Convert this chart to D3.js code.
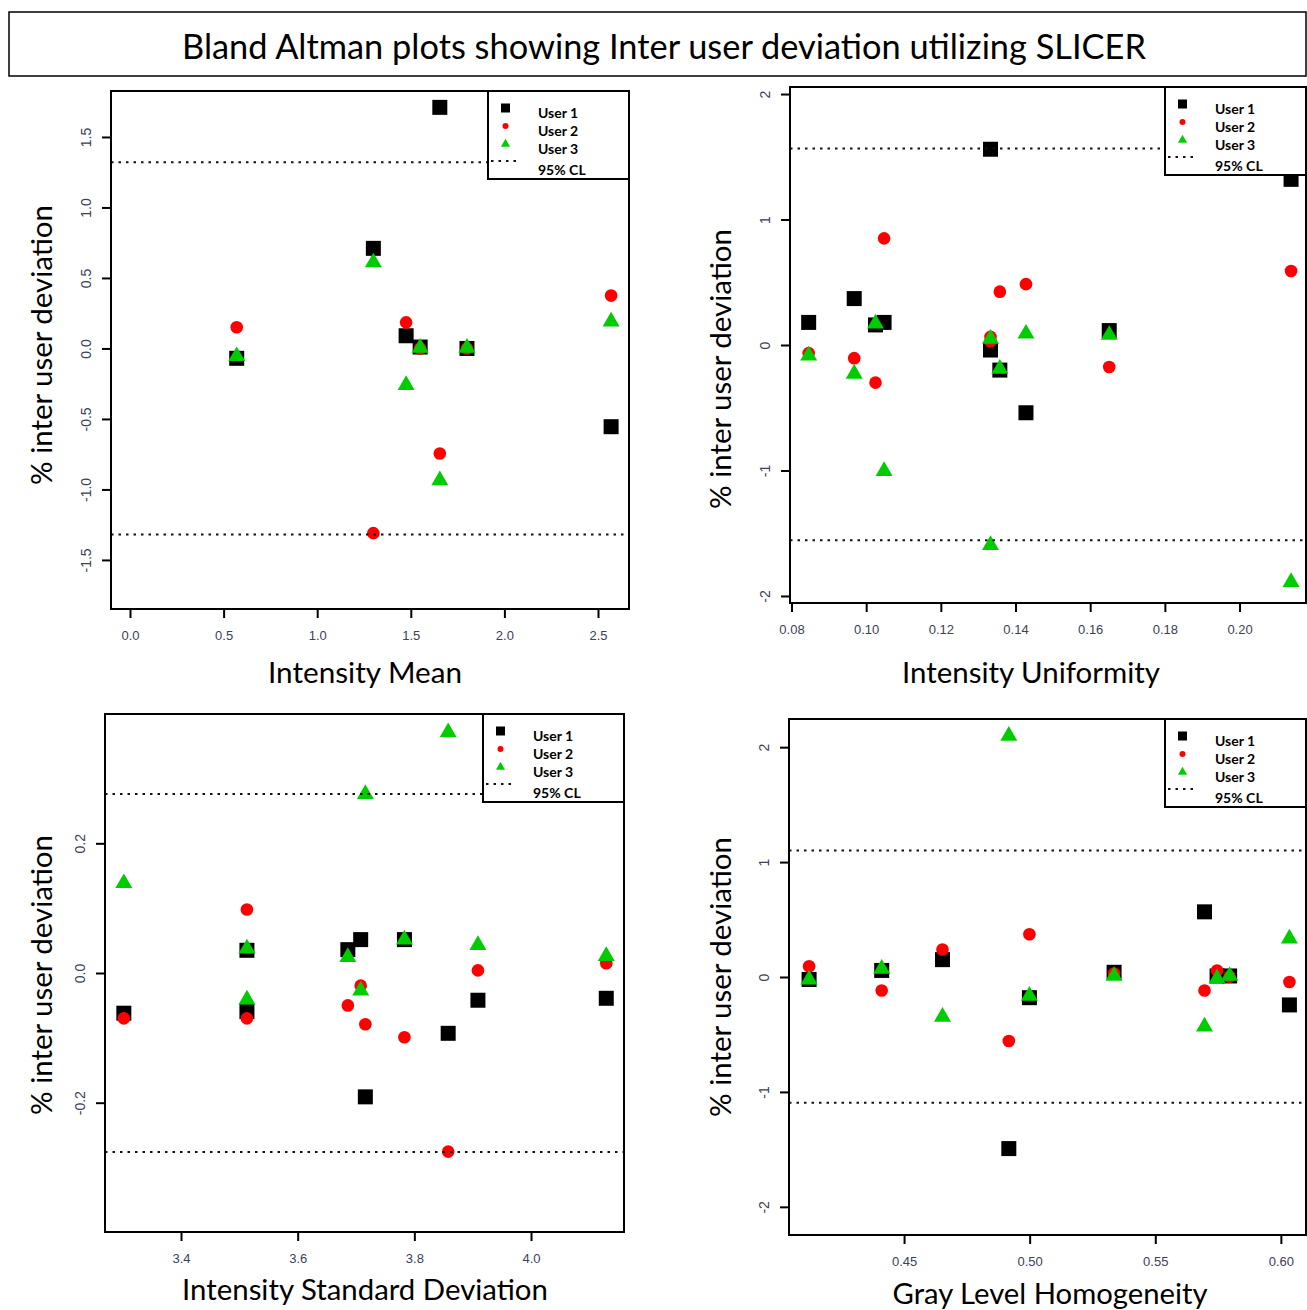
<!DOCTYPE html>
<html>
<head>
<meta charset="utf-8">
<script src="https://cdn.jsdelivr.net/npm/d3@7"></script>
<style>
  body { margin: 0; background: #fff; }
  svg { display: block; }
</style>
</head>
<body>
<div id="chart"></div>
<script>
var users = ['User 1', 'User 2', 'User 3'];
var clLabel = '95% CL';
var yTitle = '% inter user deviation';
var mainTitle = 'Bland Altman plots showing Inter user deviation utilizing SLICER';

// Intensity Mean
var meanX  = [0.57, 1.30, 1.475, 1.55, 1.655, 1.80, 2.57];
var meanU1 = [-0.07, 0.71, 0.09, 0.01, 1.71, 0.0, -0.555];
var meanU2 = [0.15, -1.31, 0.185, 0.0, -0.745, 0.0, 0.375];
var meanU3 = [-0.055, 0.61, -0.26, 0.005, -0.935, 0.005, 0.19];
var meanCL = [1.32, -1.32];
var meanXTicks = [0, 0.5, 1.0, 1.5, 2.0, 2.5];
var meanYTicks = [-1.5, -1.0, -0.5, 0, 0.5, 1.0, 1.5];

// Intensity Uniformity
var unifX  = [0.0846, 0.0968, 0.1025, 0.1048, 0.1333, 0.1333, 0.1358, 0.1428, 0.1651, 0.2138];
var unifU1 = [0.18, 0.37, 0.16, 0.18, 1.56, -0.04, -0.20, -0.54, 0.115, 1.32];
var unifU2 = [-0.065, -0.105, -0.30, 0.85, 0.03, 0.065, 0.425, 0.485, -0.175, 0.59];
var unifU3 = [-0.085, -0.23, 0.17, -1.005, -1.595, 0.05, -0.19, 0.09, 0.08, -1.89];
var unifCL = [1.565, -1.555];
var unifXTicks = [0.08, 0.10, 0.12, 0.14, 0.16, 0.18, 0.20];
var unifYTicks = [-2, -1, 0, 1, 2];

// Intensity Standard Deviation
var sdX  = [3.302, 3.513, 3.513, 3.686, 3.708, 3.716, 3.783, 3.858, 3.909, 4.129];
var sdU1 = [-0.062, 0.035, -0.0595, 0.036, 0.0515, -0.191, 0.0515, -0.093, -0.042, -0.039];
var sdU2 = [-0.070, 0.098, -0.070, -0.050, -0.0195, -0.079, -0.099, -0.2755, 0.004, 0.015];
var sdU3 = [0.1385, 0.0375, -0.041, 0.0245, -0.027, 0.276, 0.0515, 0.371, 0.043, 0.026];
var sdCL = [0.276, -0.276];
var sdXTicks = [3.4, 3.6, 3.8, 4.0];
var sdYTicks = [-0.2, 0, 0.2];

// Gray Level Homogeneity
var glhX  = [0.4122, 0.4411, 0.4653, 0.4917, 0.4999, 0.5336, 0.5696, 0.5746, 0.5796, 0.6034];
var glhU1 = [-0.022, 0.057, 0.151, -1.493, -0.18, 0.041, 0.567, 0.009, 0.009, -0.243];
var glhU2 = [0.094, -0.117, 0.239, -0.557, 0.372, 0.031, -0.117, 0.057, 0.003, -0.044];
var glhU3 = [-0.022, 0.072, -0.346, 2.098, -0.164, 0.009, -0.431, -0.013, 0.009, 0.334];
var glhCL = [1.10, -1.095];
var glhXTicks = [0.45, 0.50, 0.55, 0.60];
var glhYTicks = [-2, -1, 0, 1, 2];

var colors = ['#000000', '#ff0000', '#00cc00'];
var labelFont = 'Lato, "Open Sans", sans-serif';
var tickFont = '"Liberation Sans", Arial, sans-serif';

var svg = d3.select('#chart').append('svg')
  .attr('width', 1307)
  .attr('height', 1310);

// fit a text element to a target width by changing its font size
function fitText(sel, w) {
  var len = sel.node().getComputedTextLength();
  var fs = parseFloat(sel.attr('font-size'));
  sel.attr('font-size', fs * w / len);
}

// title
svg.append('rect')
  .attr('x', 9).attr('y', 12).attr('width', 1297).attr('height', 64)
  .attr('fill', 'none').attr('stroke', '#000').attr('stroke-width', 1.5);
var title = svg.append('text')
  .attr('x', 664).attr('y', 45)
  .attr('text-anchor', 'middle').attr('dominant-baseline', 'central')
  .attr('font-family', labelFont).attr('font-size', 30)
  .text(mainTitle);
fitText(title, 964);

var panels = [
  { x: meanX, ys: [meanU1, meanU2, meanU3], cl: meanCL, xTicks: meanXTicks, yTicks: meanYTicks,
    xFmt: function(d) { return d.toFixed(1); }, yFmt: function(d) { return d.toFixed(1); },
    xLabel: 'Intensity Mean', xLabelPos: [365, 671, 194], yLabelPos: [40, 345],
    box: [111, 91, 629, 609], xDom: [-0.1015, 2.6656], yDom: [-1.848, 1.826] },
  { x: unifX, ys: [unifU1, unifU2, unifU3], cl: unifCL, xTicks: unifXTicks, yTicks: unifYTicks,
    xFmt: function(d) { return d.toFixed(2); }, yFmt: function(d) { return String(d); },
    xLabel: 'Intensity Uniformity', xLabelPos: [1031, 671, 258], yLabelPos: [719, 369],
    box: [790, 87, 1306, 603], xDom: [0.0796, 0.2178], yDom: [-2.056, 2.056] },
  { x: sdX, ys: [sdU1, sdU2, sdU3], cl: sdCL, xTicks: sdXTicks, yTicks: sdYTicks,
    xFmt: function(d) { return d.toFixed(1); }, yFmt: function(d) { return d.toFixed(1); },
    xLabel: 'Intensity Standard Deviation', xLabelPos: [365, 1288, 366], yLabelPos: [40, 975],
    box: [105, 714, 624, 1232], xDom: [3.2697, 4.1594], yDom: [-0.3994, 0.3994] },
  { x: glhX, ys: [glhU1, glhU2, glhU3], cl: glhCL, xTicks: glhXTicks, yTicks: glhYTicks,
    xFmt: function(d) { return d.toFixed(2); }, yFmt: function(d) { return String(d); },
    xLabel: 'Gray Level Homogeneity', xLabelPos: [1050, 1292, 315], yLabelPos: [719, 977],
    box: [789, 719, 1306, 1235], xDom: [0.4042, 0.610], yDom: [-2.245, 2.245] }
];

var shapes = [d3.symbolSquare, d3.symbolCircle, d3.symbolTriangle];
var plotSizes = [225, 125, 125];
var legendSizes = [81, 28, 36];

panels.forEach(function(p) {
  var b = p.box;
  var xScale = d3.scaleLinear().domain(p.xDom).range([b[0], b[2]]);
  var yScale = d3.scaleLinear().domain(p.yDom).range([b[3], b[1]]);
  var g = svg.append('g');

  // points: user 1, then 2, then 3 on top
  p.ys.forEach(function(vals, i) {
    g.append('g').selectAll('path')
      .data(vals.map(function(v, k) { return [p.x[k], v]; }))
      .enter().append('path')
      .attr('d', d3.symbol().type(shapes[i]).size(plotSizes[i]))
      .attr('transform', function(d) {
        return 'translate(' + xScale(d[0]) + ',' + yScale(d[1]) + ')';
      })
      .attr('fill', colors[i]);
  });

  // 95% CL lines
  g.append('g').selectAll('line')
    .data(p.cl)
    .enter().append('line')
    .attr('x1', b[0]).attr('x2', b[2])
    .attr('y1', function(d) { return yScale(d); })
    .attr('y2', function(d) { return yScale(d); })
    .attr('stroke', '#111').attr('stroke-width', 2)
    .attr('stroke-dasharray', '2.5,5');

  // axes
  var xAxis = d3.axisBottom(xScale).tickValues(p.xTicks).tickSize(9).tickFormat(p.xFmt);
  var yAxis = d3.axisLeft(yScale).tickValues(p.yTicks).tickSize(9).tickFormat(p.yFmt);

  var gx = g.append('g').attr('transform', 'translate(0,' + b[3] + ')').call(xAxis);
  var gy = g.append('g').attr('transform', 'translate(' + b[0] + ',0)').call(yAxis);
  [gx, gy].forEach(function(a) {
    a.select('.domain').remove();
    a.selectAll('line').attr('stroke', '#000').attr('stroke-width', 2);
    a.selectAll('text')
      .attr('font-family', tickFont).attr('font-size', 13)
      .attr('fill', '#3c4058');
  });
  gx.selectAll('text')
    .attr('y', 26).attr('dy', null)
    .attr('dominant-baseline', 'central');
  gy.selectAll('text')
    .attr('x', null).attr('dy', null)
    .attr('font-size', 14)
    .attr('text-anchor', 'middle').attr('dominant-baseline', 'central')
    .attr('transform', 'translate(-25,0) rotate(-90)');

  // legend
  var lw = 141, lh = 88;
  var lg = g.append('g').attr('transform', 'translate(' + (b[2] - lw) + ',' + b[1] + ')');
  lg.append('rect')
    .attr('width', lw).attr('height', lh)
    .attr('fill', '#fff').attr('stroke', '#000').attr('stroke-width', 2);
  var rows = [17, 35, 53];
  users.forEach(function(u, i) {
    lg.append('path')
      .attr('d', d3.symbol().type(shapes[i]).size(legendSizes[i]))
      .attr('transform', 'translate(17.5,' + rows[i] + ')')
      .attr('fill', colors[i]);
    lg.append('text')
      .attr('x', 50).attr('y', rows[i] + 4)
      .attr('dominant-baseline', 'central')
      .attr('font-family', labelFont).attr('font-weight', 'bold').attr('font-size', 14)
      .text(u);
  });
  lg.append('line')
    .attr('x1', 3).attr('x2', 31).attr('y1', 70).attr('y2', 70)
    .attr('stroke', '#111').attr('stroke-width', 2)
    .attr('stroke-dasharray', '2.5,5');
  lg.append('text')
    .attr('x', 50).attr('y', 78)
    .attr('dominant-baseline', 'central')
    .attr('font-family', labelFont).attr('font-weight', 'bold').attr('font-size', 14)
    .text(clLabel);

  // plot box
  g.append('rect')
    .attr('x', b[0]).attr('y', b[1])
    .attr('width', b[2] - b[0]).attr('height', b[3] - b[1])
    .attr('fill', 'none').attr('stroke', '#000').attr('stroke-width', 2);

  // axis titles
  var xl = g.append('text')
    .attr('x', p.xLabelPos[0]).attr('y', p.xLabelPos[1])
    .attr('text-anchor', 'middle').attr('dominant-baseline', 'central')
    .attr('font-family', labelFont).attr('font-size', 28)
    .text(p.xLabel);
  fitText(xl, p.xLabelPos[2]);
  var yl = g.append('text')
    .attr('transform', 'translate(' + p.yLabelPos[0] + ',' + p.yLabelPos[1] + ') rotate(-90)')
    .attr('text-anchor', 'middle').attr('dominant-baseline', 'central')
    .attr('font-family', labelFont).attr('font-size', 28)
    .text(yTitle);
  fitText(yl, 280);
});
</script>
</body>
</html>
